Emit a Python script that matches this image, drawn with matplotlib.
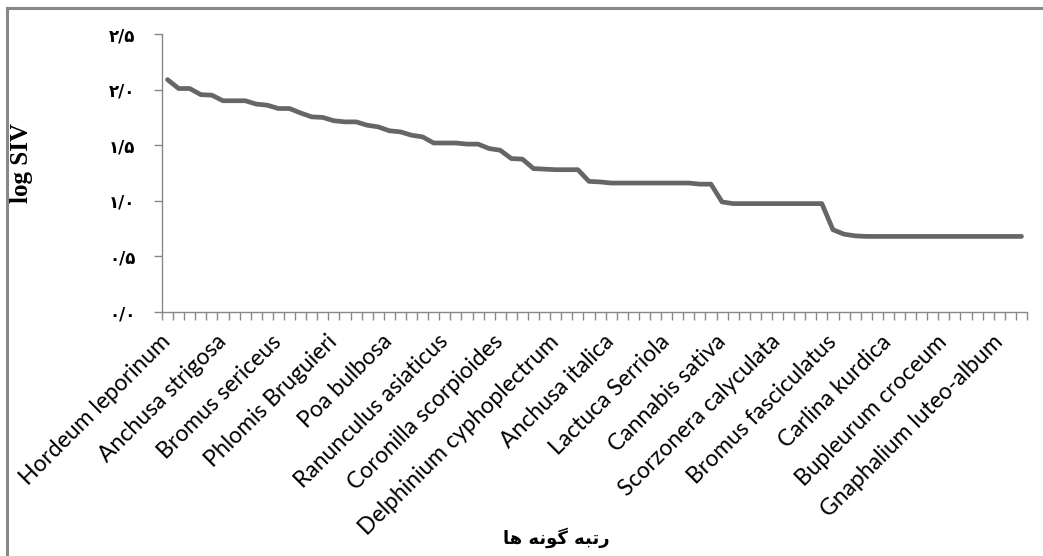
import numpy as np
import matplotlib.pyplot as plt
from matplotlib.lines import Line2D

# log SIV values by species rank
log_siv = [2.09, 2.01, 2.01, 1.955, 1.95, 1.90, 1.90, 1.90, 1.87, 1.86,
           1.83, 1.83, 1.79, 1.755, 1.75, 1.72, 1.71, 1.71, 1.68, 1.665,
           1.63, 1.62, 1.59, 1.575, 1.52, 1.52, 1.52, 1.51, 1.51, 1.47,
           1.455, 1.38, 1.375, 1.29, 1.285, 1.28, 1.28, 1.28, 1.175, 1.17,
           1.16, 1.16, 1.16, 1.16, 1.16, 1.16, 1.16, 1.16, 1.15, 1.15,
           0.99, 0.975, 0.975, 0.975, 0.975, 0.975, 0.975, 0.975, 0.975, 0.975,
           0.74, 0.70, 0.685, 0.68, 0.68, 0.68, 0.68, 0.68, 0.68, 0.68,
           0.68, 0.68, 0.68, 0.68, 0.68, 0.68, 0.68, 0.68]
rank = np.arange(1, len(log_siv) + 1)

# species names shown on the axis (every 5th rank)
species = ['Hordeum leporinum', 'Anchusa strigosa', 'Bromus sericeus',
           'Phlomis Bruguieri', 'Poa bulbosa', 'Ranunculus asiaticus',
           'Coronilla scorpioides', 'Delphinium cyphoplectrum', 'Anchusa italica',
           'Lactuca Serriola', 'Cannabis sativa', 'Scorzonera calyculata',
           'Bromus fasciculatus', 'Carlina kurdica', 'Bupleurum croceum',
           'Gnaphalium luteo-album']
species_rank = rank[::5][:len(species)]

y_ticks = [0.0, 0.5, 1.0, 1.5, 2.0, 2.5]
y_labels = ['۰/۰', '۰/۵', '۱/۰', '۱/۵', '۲/۰', '۲/۵']

# "رتبه گونه ها" already shaped, in visual order (matplotlib has no RTL shaping)
x_title = '\uFE8E\uFEEB \uFEEA\uFEE7\uFEEE\uFB94 \uFEEA\uFE92\uFE97\uFEAD'

grey = '#888888'

fig = plt.figure(figsize=(10.43, 5.56), dpi=100)
ax = fig.add_axes([0.1553, 0.4388, 0.8294, 0.5])

ax.plot(rank, log_siv, color='#666666', lw=3.4, solid_joinstyle='round',
        solid_capstyle='round')

ax.set_xlim(0.5, len(log_siv) + 0.5)
ax.set_ylim(0, 2.5)

# tick marks between categories, labels on the named species
ax.set_xticks(np.arange(0.5, len(log_siv) + 1, 1))
ax.set_xticklabels([])
ax.set_xticks(species_rank, minor=True)
ax.set_xticklabels(species, minor=True, rotation=45, ha='right', va='center',
                   rotation_mode='anchor', fontsize=16.5, family='Lato')
ax.tick_params(axis='x', which='major', direction='out', length=6,
               color=grey, width=1)
ax.tick_params(axis='x', which='minor', length=0, pad=19)

ax.set_yticks(y_ticks)
ax.set_yticklabels(y_labels, family='DejaVu Sans', fontsize=12,
                   fontweight='bold')
ax.tick_params(axis='y', direction='out', length=6, color=grey, width=1,
               pad=13)

for s in ['top', 'right']:
    ax.spines[s].set_visible(False)
for s in ['left', 'bottom']:
    ax.spines[s].set_color(grey)
    ax.spines[s].set_linewidth(1)

fig.text(0.021, 0.707, 'log SIV', rotation=90, ha='center', va='center',
         family='Liberation Serif', fontweight='bold', fontsize=18)
fig.text(0.533, 0.032, x_title, ha='center', va='center',
         family='DejaVu Sans', fontweight='bold', fontsize=13)

# chart area border (only top and left are visible in the crop)
fig.add_artist(Line2D([0.0067, 1.0], [0.986, 0.986], color=grey, lw=2.2,
                      transform=fig.transFigure))
fig.add_artist(Line2D([0.0067, 0.0067], [0.0, 0.986], color=grey, lw=2.2,
                      transform=fig.transFigure))

fig.savefig('out.png', dpi=100)
